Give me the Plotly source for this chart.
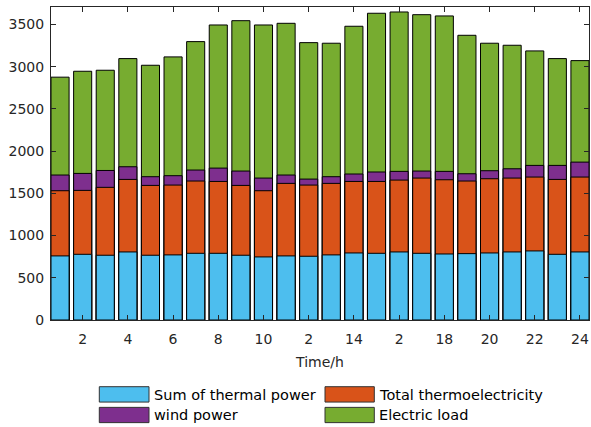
import plotly.graph_objects as go

hours = list(range(1, 25))
thermal_sum = [759, 778, 767, 806, 767, 771, 790, 790, 767, 747, 759, 755,
               771, 794, 790, 806, 790, 782, 786, 794, 806, 818, 778, 806]
thermo_total = [1531, 1535, 1571, 1665, 1594, 1598, 1646, 1641, 1594, 1531, 1618, 1598,
                1618, 1641, 1641, 1657, 1681, 1661, 1646, 1673, 1681, 1693, 1665, 1693]
wind_power = [1717, 1736, 1771, 1815, 1697, 1709, 1776, 1799, 1764, 1681, 1717, 1669,
              1697, 1729, 1753, 1760, 1764, 1760, 1732, 1768, 1791, 1831, 1831, 1870]
electric_load = [2876, 2946, 2958, 3096, 3017, 3116, 3297, 3494, 3545, 3494, 3514, 3285,
                 3278, 3479, 3633, 3648, 3616, 3601, 3372, 3278, 3254, 3187, 3096, 3072]

x_tickvals = [2, 4, 6, 8, 10, 12, 14, 16, 18, 20, 22, 24]
x_ticktext = ["2", "4", "6", "8", "10", "2", "14", "2", "18", "20", "22", "24"]
y_tickvals = [0, 500, 1000, 1500, 2000, 2500, 3000, 3500]

names = ["Sum of thermal power", "Total thermoelectricity", "wind power", "Electric load"]
colors = ["#4DBEEE", "#D95319", "#7E2F8E", "#77AC30"]
series = [thermal_sum, thermo_total, wind_power, electric_load]

FONT = "DejaVu Sans"
TXT = "#262626"

fig = go.Figure()
# draw tallest first so shorter bars overlay on top
for name, col, vals in reversed(list(zip(names, colors, series))):
    fig.add_trace(go.Bar(
        x=hours, y=vals, name=name, width=0.8,
        marker=dict(color=col, line=dict(color="#000000", width=1)),
        showlegend=False,
    ))

W, H = 591, 427
ml, mr, mt, mb = 51, 2, 7, 106.5
pw, ph = W - ml - mr, H - mt - mb


def px(xp):
    return (xp - ml) / pw


def py(yp):
    return (H - mb - yp) / ph


shapes = []
annotations = []
legend_pos = [  # (swatch x0, x1, y0, y1, text x, text y)
    (99.3, 149, 387.3, 402.7, 151.7, 395.5),
    (325, 374.3, 387.3, 402.7, 377.3, 395.5),
    (99.3, 149, 408, 423.3, 151.7, 416),
    (325, 374.3, 408, 423.3, 377.3, 416),
]
legend_order = [0, 1, 2, 3]
for i, (x0, x1, y0, y1, tx, ty) in zip(legend_order, legend_pos):
    shapes.append(dict(type="rect", xref="paper", yref="paper",
                       x0=px(x0), x1=px(x1), y0=py(y1), y1=py(y0),
                       fillcolor=colors[i], line=dict(color="#333333", width=1)))
    annotations.append(dict(xref="paper", yref="paper", x=px(tx), y=py(ty),
                            text=names[i], showarrow=False, xanchor="left", yanchor="middle",
                            font=dict(family=FONT, size=14.5, color="#000000")))

fig.update_layout(
    width=W, height=H,
    margin=dict(l=ml, r=mr, t=mt, b=mb),
    barmode="overlay",
    plot_bgcolor="white", paper_bgcolor="white",
    font=dict(family=FONT, size=14, color=TXT),
    shapes=shapes, annotations=annotations,
    xaxis=dict(range=[0.6, 24.4], tickvals=x_tickvals, ticktext=x_ticktext,
               ticks="inside", ticklen=5, tickcolor=TXT, showline=True, linecolor=TXT,
               linewidth=1, mirror="ticks", showgrid=False, zeroline=False,
               ticklabelstandoff=6,
               title=dict(text="Time/h", font=dict(family=FONT, size=14, color=TXT), standoff=11),
               tickfont=dict(family=FONT, size=14, color=TXT)),
    yaxis=dict(range=[0, 3707], tickvals=y_tickvals, ticks="inside", ticklen=5,
               tickcolor=TXT, showline=True, linecolor=TXT, linewidth=1, mirror="ticks",
               showgrid=False, zeroline=False, ticklabelstandoff=3,
               tickfont=dict(family=FONT, size=14, color=TXT)),
)

fig.write_html("out.html", config={"displayModeBar": False},
               post_script="document.body.style.margin='0';")
